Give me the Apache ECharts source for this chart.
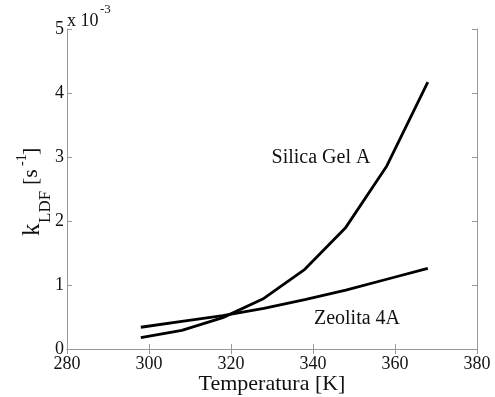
<!DOCTYPE html>
<html><head><meta charset="utf-8">
<script src="https://cdn.jsdelivr.net/npm/echarts@6/dist/echarts.min.js"></script>
<style>html,body{margin:0;padding:0;background:#fff}#c{width:495px;height:397px}</style>
</head><body><div id="c"></div>
<script>
var temps = [298, 308, 318, 328, 338, 348, 358, 368];
var silicaGel = [0.177, 0.29, 0.49, 0.79, 1.245, 1.90, 2.86, 4.17];
var zeolita = [0.34, 0.43, 0.52, 0.636, 0.77, 0.92, 1.09, 1.26];
var xTicks = [280, 300, 320, 340, 360, 380];
var yTicks = [0, 1, 2, 3, 4, 5];

var F = '"Liberation Serif", "Times New Roman", serif';
var chart = echarts.init(document.getElementById('c'));
function pairs(xs, ys){ return xs.map(function(x,i){return [x, ys[i]];}); }
var axisLine = {show:true, lineStyle:{color:'#999', width:1}};
var tick = {show:true, inside:true, length:5, lineStyle:{color:'#999'}};
chart.setOption({
  animation:false,
  backgroundColor:'#fff',
  grid:{left:67, right:18, top:29, bottom:48, containLabel:false, outerBoundsMode:'none'},
  xAxis:[{type:'value', min:xTicks[0], max:xTicks[xTicks.length-1], interval:20, position:'bottom',
    axisLine:axisLine, axisTick:tick, splitLine:{show:false},
    axisLabel:{color:'#111', fontFamily:F, fontSize:18, margin:6}},
   {type:'value', min:xTicks[0], max:xTicks[xTicks.length-1], interval:20, position:'top',
    axisLine:axisLine, axisTick:tick, axisLabel:{show:false}, splitLine:{show:false}}],
  yAxis:[{type:'value', min:yTicks[0], max:yTicks[yTicks.length-1], interval:1, position:'left',
    axisLine:axisLine, axisTick:tick, splitLine:{show:false},
    axisLabel:{color:'#111', fontFamily:F, fontSize:18, margin:3}},
   {type:'value', min:yTicks[0], max:yTicks[yTicks.length-1], interval:1, position:'right',
    axisLine:axisLine, axisTick:tick, axisLabel:{show:false}, splitLine:{show:false}}],
  series:[
    {type:'line', data:pairs(temps, silicaGel), showSymbol:false, lineStyle:{color:'#000', width:2.8}},
    {type:'line', data:pairs(temps, zeolita), showSymbol:false, lineStyle:{color:'#000', width:2.8}}
  ],
  graphic:[
    {type:'text', x:272, y:384, style:{text:'Temperatura [K]', font:'22px '+F, fill:'#111', textAlign:'center', textVerticalAlign:'middle'}},
    {type:'text', x:321, y:158, style:{text:'Silica Gel A', font:'20px '+F, fill:'#111', textAlign:'center', textVerticalAlign:'middle'}},
    {type:'text', x:357, y:319, style:{text:'Zeolita 4A', font:'20px '+F, fill:'#111', textAlign:'center', textVerticalAlign:'middle'}},
    {type:'text', x:67, y:21, style:{text:'x 10', font:'18px '+F, fill:'#111', textAlign:'left', textVerticalAlign:'middle'}},
    {type:'text', x:100, y:10, style:{text:'-3', font:'13px '+F, fill:'#111', textAlign:'left', textVerticalAlign:'middle'}},
    {type:'text', x:32, y:236, rotation:Math.PI/2, style:{text:'k', font:'25px '+F, fill:'#111', textAlign:'left', textVerticalAlign:'middle'}},
    {type:'text', x:46, y:223, rotation:Math.PI/2, style:{text:'LDF', font:'17px '+F, fill:'#111', textAlign:'left', textVerticalAlign:'middle'}},
    {type:'text', x:31, y:185, rotation:Math.PI/2, style:{text:'[s', font:'22px '+F, fill:'#111', textAlign:'left', textVerticalAlign:'middle'}},
    {type:'text', x:22, y:166, rotation:Math.PI/2, style:{text:'-1', font:'14px '+F, fill:'#111', textAlign:'left', textVerticalAlign:'middle'}},
    {type:'text', x:31, y:155, rotation:Math.PI/2, style:{text:']', font:'22px '+F, fill:'#111', textAlign:'left', textVerticalAlign:'middle'}}
  ]
});
</script></body></html>
